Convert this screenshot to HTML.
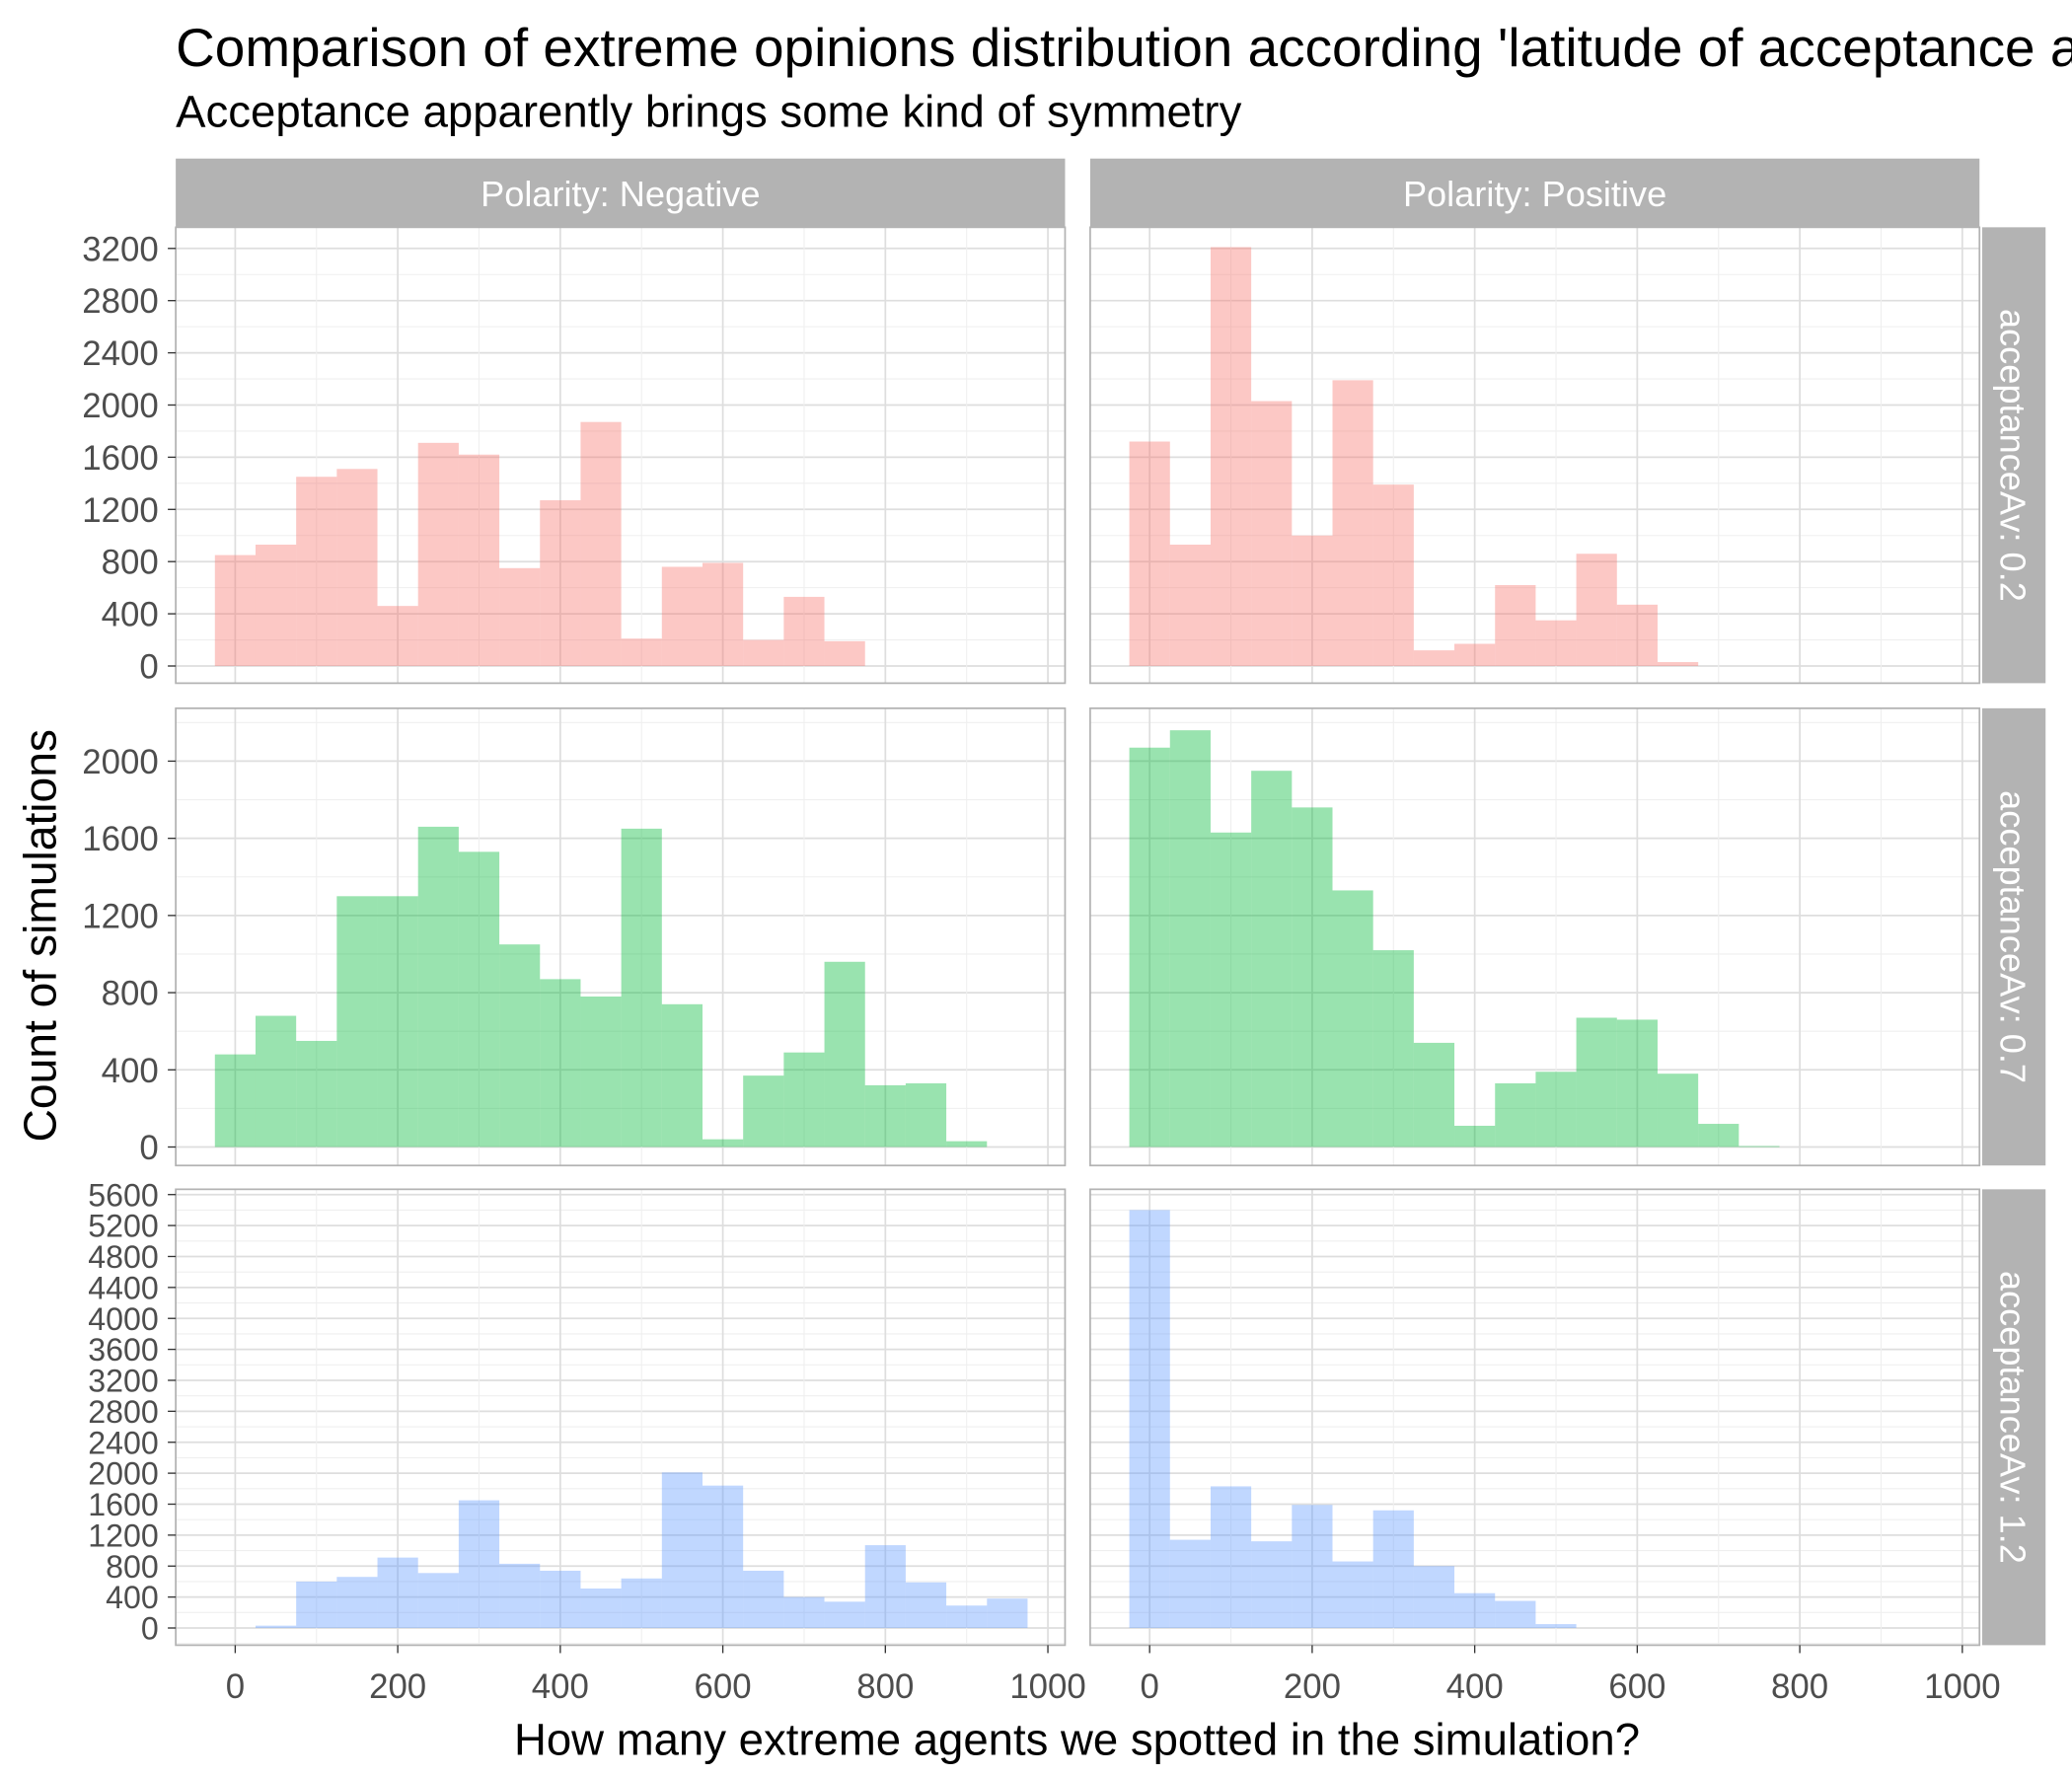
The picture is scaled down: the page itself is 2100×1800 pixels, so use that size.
<!DOCTYPE html>
<html><head><meta charset="utf-8"><style>
html,body{margin:0;padding:0;background:#fff;overflow:hidden}
svg{display:block;font-family:"Liberation Sans",Arial,sans-serif}
</style></head><body>
<svg id="chart" width="2100" height="1800" viewBox="0 0 1568 1344" xmlns="http://www.w3.org/2000/svg">
<text x="133" y="50" font-size="41" fill="#000">Comparison of extreme opinions distribution according 'latitude of acceptance average'</text>
<text x="133" y="96" font-size="34" fill="#000">Acceptance apparently brings some kind of symmetry</text>
<text transform="translate(42,708) rotate(-90)" text-anchor="middle" font-size="34.5" fill="#000">Count of simulations</text>
<text x="815" y="1328" text-anchor="middle" font-size="34" fill="#000">How many extreme agents we spotted in the simulation?</text>
<g id="panels"></g>
</svg>
<script>
const polarities = ["Negative", "Positive"];
const acceptances = ["0.2", "0.7", "1.2"];
const binWidth = 50;
const neg02 = [850, 930, 1450, 1510, 460, 1710, 1620, 750, 1270, 1870, 210, 760, 790, 200, 530, 190];
const pos02 = [1720, 930, 3210, 2030, 1000, 2190, 1390, 120, 170, 620, 350, 860, 470, 30];
const neg07 = [480, 680, 550, 1300, 1300, 1660, 1530, 1050, 870, 780, 1650, 740, 40, 370, 490, 960, 320, 330, 30];
const pos07 = [2070, 2160, 1630, 1950, 1760, 1330, 1020, 540, 110, 330, 390, 670, 660, 380, 120, 5];
const neg12 = [0, 30, 600, 660, 910, 710, 1650, 830, 740, 510, 640, 2010, 1840, 740, 400, 340, 1070, 590, 290, 380];
const pos12 = [5400, 1140, 1830, 1120, 1590, 860, 1520, 800, 450, 350, 50];
const yTicks02 = [0, 400, 800, 1200, 1600, 2000, 2400, 2800, 3200];
const yTicks07 = [0, 400, 800, 1200, 1600, 2000];
const yTicks12 = [0, 400, 800, 1200, 1600, 2000, 2400, 2800, 3200, 3600, 4000, 4400, 4800, 5200, 5600];
const xTicks = [0, 200, 400, 600, 800, 1000];

const NS = "http://www.w3.org/2000/svg";
const g = document.getElementById("panels");
function mk(tag, attrs, parent){const e=document.createElementNS(NS,tag);for(const k in attrs)e.setAttribute(k,attrs[k]);(parent||g).appendChild(e);return e;}

const cols = [{x0:133,x1:806,zero:178},{x0:825,x1:1498,zero:870}];
const xPerUnit = (793-178)/1000;
const rows = [
  {y0:172,y1:517,zero:504,top:188,topVal:3200,ticks:yTicks02,data:[neg02,pos02],fill:"#F8766D",fs:26},
  {y0:536,y1:882,zero:868,top:576,topVal:2000,ticks:yTicks07,data:[neg07,pos07],fill:"#00BA38",fs:26},
  {y0:900,y1:1245,zero:1232,top:904,topVal:5600,ticks:yTicks12,data:[neg12,pos12],fill:"#619CFF",fs:24}
];

cols.forEach((c,ci)=>{
  const r=mk("rect",{x:c.x0,y:120,width:c.x1-c.x0,height:52,fill:"#b3b3b3"});
  
  
  const t=mk("text",{x:(c.x0+c.x1)/2,y:156,"text-anchor":"middle","font-size":"27",fill:"#fff"});
  t.textContent="Polarity: "+polarities[ci];
  
  
});

rows.forEach((rw,ri)=>{
  const yScale=v=>rw.zero-(v/rw.topVal)*(rw.zero-rw.top);
  const step=rw.ticks[1]-rw.ticks[0];
  const s=mk("rect",{x:1500,y:rw.y0,width:48,height:rw.y1-rw.y0,fill:"#b3b3b3"});
  
  
  const st=mk("text",{transform:`translate(1514,${(rw.y0+rw.y1)/2}) rotate(90)`,"text-anchor":"middle","font-size":"27",fill:"#fff"});
  st.textContent="acceptanceAv: "+acceptances[ri];
  
  
  cols.forEach((c,ci)=>{
    const xScale=v=>c.zero+v*xPerUnit;
    const pg=mk("g",{});
    
    
    mk("rect",{x:c.x0,y:rw.y0,width:c.x1-c.x0,height:rw.y1-rw.y0,fill:"#fff"},pg);
    for(let v=-step/2; v<=rw.topVal+step; v+=step/2){
      const y=yScale(v); if(y<rw.y0||y>rw.y1) continue;
      const major=rw.ticks.includes(v);
      mk("line",{x1:c.x0,x2:c.x1,y1:y,y2:y,stroke:major?"#dedede":"#efefef","stroke-width":major?1.3:0.8},pg);
    }
    for(let v=-100; v<=1100; v+=100){
      const x=xScale(v); if(x<c.x0||x>c.x1) continue;
      const major=xTicks.includes(v);
      mk("line",{x1:x,x2:x,y1:rw.y0,y2:rw.y1,stroke:major?"#dedede":"#efefef","stroke-width":major?1.3:0.8},pg);
    }
    rw.data[ci].forEach((val,i)=>{
      const lx=xScale(i*binWidth-binWidth/2), rx=xScale(i*binWidth+binWidth/2);
      const b=mk("rect",{x:lx,y:yScale(val),width:rx-lx,height:rw.zero-yScale(val),fill:rw.fill,"fill-opacity":0.4},pg);
      
      
    });
    mk("rect",{x:c.x0,y:rw.y0,width:c.x1-c.x0,height:rw.y1-rw.y0,fill:"none",stroke:"#b3b3b3","stroke-width":1.3},pg);
  });
  rw.ticks.forEach(v=>{
    const y=yScale(v);
    mk("line",{x1:127,x2:133,y1:y,y2:y,stroke:"#333","stroke-width":1});
    const t=mk("text",{x:120,y:y+rw.fs*0.36,"text-anchor":"end","font-size":rw.fs,fill:"#4d4d4d"});
    t.textContent=v;
    
    
  });
});
cols.forEach(c=>{
  xTicks.forEach(v=>{
    const x=c.zero+v*xPerUnit;
    mk("line",{x1:x,x2:x,y1:1245,y2:1251,stroke:"#333","stroke-width":1});
    const t=mk("text",{x:x,y:1285,"text-anchor":"middle","font-size":26,fill:"#4d4d4d"});
    t.textContent=v;
    
    
  });
});
</script>
</body></html>
